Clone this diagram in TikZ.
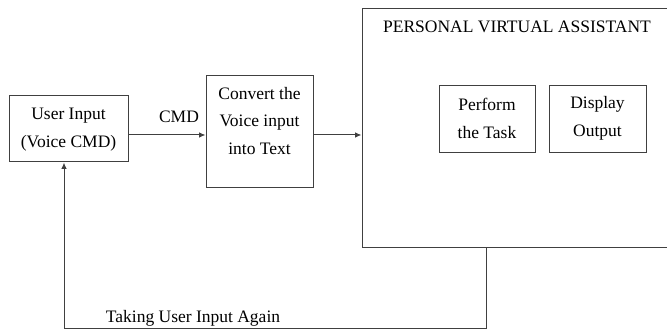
\documentclass[tikz,border=0pt]{standalone}
\usepackage{fontspec}
\setmainfont{Liberation Serif}
\usetikzlibrary{arrows.meta}
\begin{document}
\begin{tikzpicture}[x=1pt,y=-1pt,
  box/.style={draw=black!75, line width=1pt, inner sep=0pt},
  txt/.style={align=center, inner sep=0pt, font=\fontsize{17.5}{27.5}\selectfont},
  conn/.style={draw=black!75, line width=1pt},
  arr/.style={conn, -{Latex[length=6.5pt,width=5.5pt]}}]
\clip (0,0) rectangle (667,331);
% boxes
\node[box, minimum width=119, minimum height=66] (ui) at (68.5,129) {};
\node[txt] (uit) at (68.5,129.5) {User Input\\(Voice CMD)};
\node[box, minimum width=107, minimum height=112] (conv) at (259.5,132) {};
\node[txt] (convt) at (259.5,121) {Convert the\\Voice input\\into Text};
\node[box, minimum width=312, minimum height=239] (pva) at (518,128.5) {};
\node[txt] (pvat) at (517,27) {PERSONAL VIRTUAL ASSISTANT};
\node[box, minimum width=96, minimum height=67] (task) at (487,119.5) {};
\node[txt] (taskt) at (487,118.5) {Perform\\the Task};
\node[box, minimum width=97, minimum height=67] (disp) at (597.5,119.5) {};
\node[txt] (dispt) at (597.5,118.5) {Display\\Output};
% connectors
\draw[arr] (ui.east |- 0,135) coordinate (a1) -- (conv.west |- a1);
\node[txt] (cmd) at (179,117) {CMD};
\draw[arr] (conv.east |- 0,135) coordinate (a2) -- (pva.west |- a2);
\coordinate (fb) at (486,248);
\coordinate (fbb) at (486,328);
\coordinate (fbl) at (64,328);
\draw[arr] (fb) -- (fbb) -- (fbl) -- (fbl |- ui.south);
\node[txt] (again) at (193,318.5) {Taking User Input Again};
\end{tikzpicture}
\end{document}
